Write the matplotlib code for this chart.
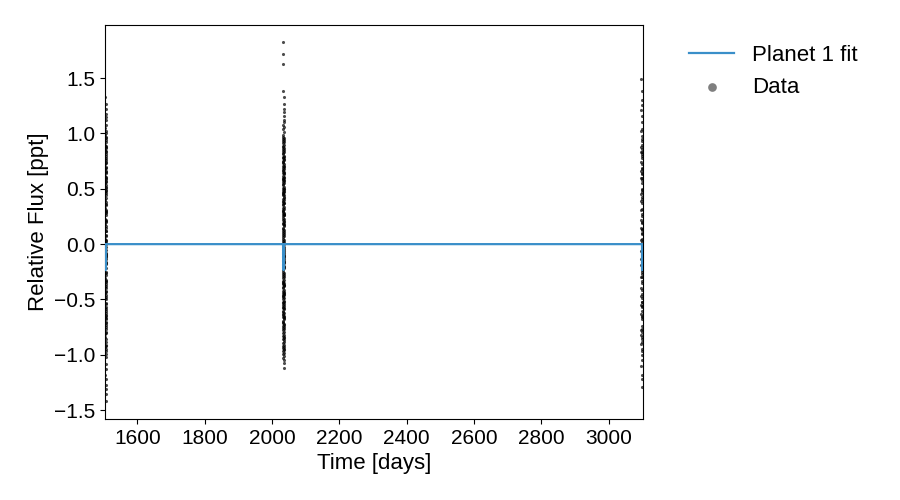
import numpy as np
import matplotlib
matplotlib.use('Agg')
import matplotlib.pyplot as plt

plt.rcParams['font.family'] = ['Liberation Sans', 'DejaVu Sans']

# sample times per cadence row (days), fluxes in ppt
left_times = [1505.0, 1505.6, 1506.2, 1506.8, 1507.4]
left_flux = [
    [0.18, -0.44, 0.62, -0.81, 0.9, -0.07, 0.33, -0.58, 0.77, -0.2, 0.47, -0.93, 0.99, 0.05, -0.31, 0.68, -0.66, 0.23, -0.49, 0.85, -0.14, 0.4, -0.84, 0.55, -0.01, 0.72, -0.39, 1.05, -1.18, 1.33],
    [-0.25, 0.51, -0.7, 0.94, 0.12, -0.42, 0.64, -0.88, 0.28, -0.11, 0.81, -0.53, 0.2, -0.79, 1.0, -0.17, 0.46, -0.62, 0.03, 0.7, -0.34, 0.88, -0.99, 0.36, -0.05, 0.57, -0.73, 1.12, -1.27, 1.27],
    [0.3, -0.6, 0.83, -0.13, 0.6, -0.86, 0.0, 0.48, -0.32, 0.96, -0.68, 0.15, -0.46, 0.74, -1.02, 0.26, -0.09, 0.65, -0.54, 0.87, -0.26, 0.52, -0.91, 0.08, -0.38, 0.78, -0.64, 1.18, -1.35, -1.42],
    [-0.1, 0.42, -0.5, 0.69, -0.97, 0.21, -0.22, 0.92, -0.67, 0.56, -0.36, 0.04, 0.84, -0.8, 0.38, -0.03, 0.61, -0.57, 1.02, -0.28, 0.12, -0.75, 0.49, -0.43, 0.76, -0.16, 1.08, -1.08, 0.31, -1.22],
    [0.22, -0.65, 0.97, -0.4, 0.53, -0.18, 0.73, -0.92, 0.07, 0.66, -0.48, 0.29, -0.77, 0.89, -0.08, 0.44, -0.59, 0.16, -0.33, 0.8, -0.95, 0.35, -0.12, 0.59, -0.71, 1.15, -1.13, 0.01, 1.22, -1.31],
]

mid_times = [2032.0, 2032.7, 2033.4, 2034.1, 2034.8, 2035.5, 2036.2, 2036.9]
mid_flux = [
    [0.12, -0.34, 0.56, -0.71, 0.88, -0.05, 0.27, -0.52, 0.73, -0.18, 0.41, -0.89, 0.95, 0.03, -0.27, 0.64, -0.61, 0.19, -0.44, 0.82, -0.12, 0.35, -0.78, 0.51, -0.03, 0.69, -0.36, 0.08, -0.57, 1.83],
    [-0.21, 0.47, -0.66, 0.91, 0.15, -0.39, 0.6, -0.83, 0.31, -0.09, 0.78, -0.48, 0.22, -0.74, 0.99, -0.15, 0.44, -0.58, 0.05, 0.67, -0.31, 0.86, -0.94, 0.38, -0.02, 0.53, -0.69, 0.25, -0.46, 1.72],
    [0.33, -0.55, 0.79, -0.11, 0.58, -0.8, 0.01, 0.45, -0.29, 0.93, -0.64, 0.18, -0.42, 0.71, -0.97, 0.29, -0.07, 0.62, -0.5, 0.84, -0.23, 0.49, -0.86, 0.1, -0.35, 0.75, -0.6, 1.04, -1.03, 1.63],
    [-0.08, 0.39, -0.47, 0.66, -0.92, 0.24, -0.19, 0.89, -0.63, 0.54, -0.33, 0.06, 0.81, -0.76, 0.36, -0.01, 0.59, -0.53, 0.97, -0.25, 0.14, -0.7, 0.46, -0.4, 0.74, -0.14, 1.08, -0.99, 0.3, 1.38],
    [0.21, -0.62, 0.94, -0.37, 0.5, -0.16, 0.7, -0.87, 0.09, 0.63, -0.45, 0.28, -0.73, 0.85, -0.06, 0.42, -0.56, 0.17, -0.3, 0.77, -0.91, 0.34, -0.1, 0.57, -0.67, 1.12, -0.2, 0.0, -1.07, 1.33],
    [-0.43, 0.68, -0.13, 0.26, -0.79, 0.52, -0.26, 0.92, -0.54, 0.11, 0.72, -0.38, 0.43, -0.95, 0.2, -0.65, 0.61, -0.04, 0.87, -0.49, 0.32, -0.82, 1.01, -0.17, 0.48, -0.72, 0.13, 1.16, -0.93, 1.27],
    [0.04, -0.28, 0.55, -0.85, 0.37, -0.59, 0.8, -0.08, 0.23, -0.41, 0.65, -0.98, 0.47, -0.22, 0.9, -0.68, 0.16, -0.35, 0.58, -0.51, 0.76, -0.11, 0.4, -0.77, 1.19, -1.01, 0.27, -0.46, 1.06, -1.12],
    [-0.32, 0.6, -0.75, 0.18, -0.12, 0.83, -0.58, 0.37, -0.88, 0.5, -0.03, 0.71, -0.44, 0.26, -0.66, 0.96, -0.21, 0.07, -0.84, 0.64, -0.37, 1.22, -0.96, 0.44, -0.15, 0.79, -0.52, 1.1, -1.05, 0.02],
]

right_times = [3097.4, 3098.2, 3099.0, 3099.8]
right_flux = [
    [0.15, -0.4, 0.6, -0.78, 0.88, -0.06, 0.31, -0.55, 0.74, -0.19, 0.45, -0.9, 1.02, 0.04, -0.3, 0.66, -0.63, 0.22, -0.47, 0.83, -0.13, 0.39, -0.82, 1.21, -1.1, 1.49],
    [-0.23, 0.49, -0.68, 0.93, 0.1, -0.41, 0.63, -0.86, 0.27, -0.1, 0.8, -0.52, 0.19, -0.77, 0.98, -0.16, 0.43, -0.6, 0.02, 0.69, -0.33, 1.1, -0.97, 1.3, -1.18, -1.29],
    [0.32, -0.57, 0.81, -0.12, 0.58, -0.84, 0.0, 0.47, -0.3, 0.95, -0.65, 0.14, -0.45, 0.72, -1.0, 0.25, -0.08, 0.64, -0.52, 0.86, -0.25, 1.16, -0.88, 0.09, 1.38, -1.22],
    [-0.09, 0.41, -0.49, 0.68, -0.95, 0.2, -0.21, 0.9, -0.66, 0.55, -0.35, 0.05, 0.83, -0.79, 0.37, -0.02, 0.6, -0.56, 1.04, -0.27, 0.13, -0.74, 0.5, -1.05, 1.26, 0.78],
]

# transit model evaluated at a few times
model_t = [1505.0, 1505.4, 1505.45, 1505.75, 1505.8, 1507.4,
           2032.0, 2034.3, 2034.35, 2034.65, 2034.7, 2036.9,
           3097.0, 3099.3, 3099.35, 3099.65, 3099.7, 3100.0]
model_f = [0.0, 0.0, -0.235, -0.235, 0.0, 0.0,
           0.0, 0.0, -0.235, -0.235, 0.0, 0.0,
           0.0, 0.0, -0.235, -0.235, 0.0, 0.0]

t_all = []
f_all = []
for times, fluxes in [(left_times, left_flux), (mid_times, mid_flux), (right_times, right_flux)]:
    for t, row in zip(times, fluxes):
        t_all += [t] * len(row)
        f_all += row

fig = plt.figure(figsize=(9, 5), dpi=100)
ax = fig.add_axes([0.117, 0.162, 0.597, 0.788])

ax.plot(model_t, model_f, color='#3a8fc9', lw=1.6, label='Planet 1 fit', zorder=3)
ax.scatter(t_all, f_all, s=5, c='k', alpha=0.7, lw=0, label='Data', zorder=2)

ax.set_xlim(1505, 3101)
ax.set_ylim(-1.58, 1.98)
ax.set_xticks([1600, 1800, 2000, 2200, 2400, 2600, 2800, 3000])
ax.set_yticks([-1.5, -1.0, -0.5, 0.0, 0.5, 1.0, 1.5])
ax.tick_params(labelsize=15)
ax.set_xlabel('Time [days]', fontsize=16)
ax.set_ylabel('Relative Flux [ppt]', fontsize=16)

leg = ax.legend(loc='upper left', bbox_to_anchor=(1.05, 1.0), frameon=False,
                fontsize=16, markerscale=2.8)
leg.legend_handles[1].set_alpha(0.5)

plt.savefig('out.png', dpi=100)
